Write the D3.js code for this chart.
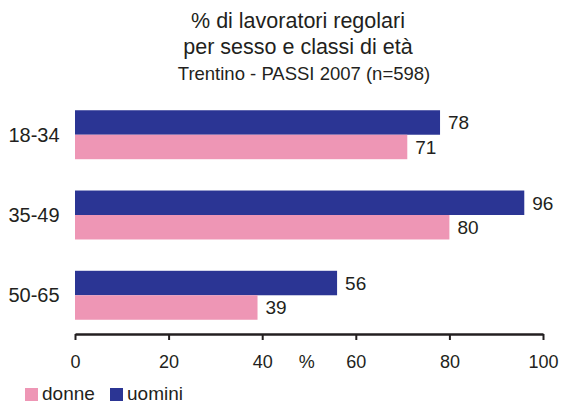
<!DOCTYPE html>
<meta charset="utf-8">
<head>
<style>
body { margin: 0; background: #fff; }
svg text { font-family: "Liberation Sans", Arial, sans-serif; fill: #231f20; }
</style>
</head>
<script src="https://d3js.org/d3.v7.min.js"></script>
<div id="chart"></div>
<script>

// data
var classi = ["18-34", "35-49", "50-65"];
var uomini = [78, 96, 56];
var donne = [71, 80, 39];
var serie = ["uomini", "donne"];
var xTicks = [0, 20, 40, 60, 80, 100];

var W = 561, H = 404;

var svg = d3.select("#chart")
  .append("svg")
    .attr("width", W)
    .attr("height", H);

// title
svg.append("text").attr("x", 298).attr("y", 28)
  .style("text-anchor", "middle").style("font-size", "21.5px")
  .text("% di lavoratori regolari");
svg.append("text").attr("x", 298).attr("y", 54)
  .style("text-anchor", "middle").style("font-size", "21.5px")
  .text("per sesso e classi di età");
svg.append("text").attr("x", 304).attr("y", 80)
  .style("text-anchor", "middle").style("font-size", "18.5px")
  .text("Trentino - PASSI 2007 (n=598)");

var x = d3.scaleLinear()
  .domain([0, 100])
  .range([75, 543]);

var y = d3.scaleBand()
  .domain(classi)
  .range([95, 335])
  .paddingInner(0.39)
  .paddingOuter(0.19);

var ySub = d3.scaleBand()
  .domain(serie)
  .range([0, y.bandwidth()]);

var colori = {uomini: "#2b3594", donne: "#ee96b5"};

var rows = classi.map(function(c, i) {
  return {classe: c, uomini: uomini[i], donne: donne[i]};
});

var g = svg.selectAll("g.gruppo")
  .data(rows)
  .enter().append("g")
    .attr("class", "gruppo")
    .attr("transform", function(d) { return "translate(0," + y(d.classe) + ")"; });

var bars = g.selectAll("rect")
  .data(function(d) { return serie.map(function(s) { return {s: s, v: d[s]}; }); })
  .enter();

bars.append("rect")
  .attr("x", x(0))
  .attr("y", function(d) { return ySub(d.s); })
  .attr("width", function(d) { return x(d.v) - x(0); })
  .attr("height", ySub.bandwidth())
  .attr("fill", function(d) { return colori[d.s]; });

bars.append("text")
  .attr("x", function(d) { return x(d.v) + 8; })
  .attr("y", function(d) { return ySub(d.s) + ySub.bandwidth() / 2; })
  .attr("dy", "0.36em")
  .style("font-size", "19px")
  .text(function(d) { return d.v; });

// category labels
g.append("text")
  .attr("x", 34)
  .attr("y", y.bandwidth() / 2)
  .attr("dy", "0.36em")
  .style("text-anchor", "middle")
  .style("font-size", "20px")
  .text(function(d) { return d.classe; });

// x axis
var xAxis = svg.append("g")
  .attr("transform", "translate(0,334)")
  .call(d3.axisBottom(x).tickValues(xTicks).tickSize(6).tickSizeOuter(0).tickPadding(15));
xAxis.select(".domain").attr("stroke", "#231f20").attr("stroke-width", 2.5);
xAxis.selectAll(".tick line").attr("stroke", "#231f20").attr("stroke-width", 2);
xAxis.selectAll(".tick text")
  .style("font-size", "18px")
  .style("font-family", "Liberation Sans, Arial, sans-serif")
  .attr("fill", "#231f20");

svg.append("text")
  .attr("x", x(49.5)).attr("y", 368)
  .style("text-anchor", "middle").style("font-size", "18px")
  .text("%");

// legend
var leg = [{s: "donne", x: 25}, {s: "uomini", x: 110}];
var lg = svg.selectAll("g.leg").data(leg).enter().append("g").attr("class", "leg");
lg.append("rect")
  .attr("x", function(d) { return d.x; })
  .attr("y", 388)
  .attr("width", 13).attr("height", 13)
  .attr("fill", function(d) { return colori[d.s]; });
lg.append("text")
  .attr("x", function(d) { return d.x + 17; })
  .attr("y", 400)
  .style("font-size", "19px")
  .text(function(d) { return d.s; });

</script>
